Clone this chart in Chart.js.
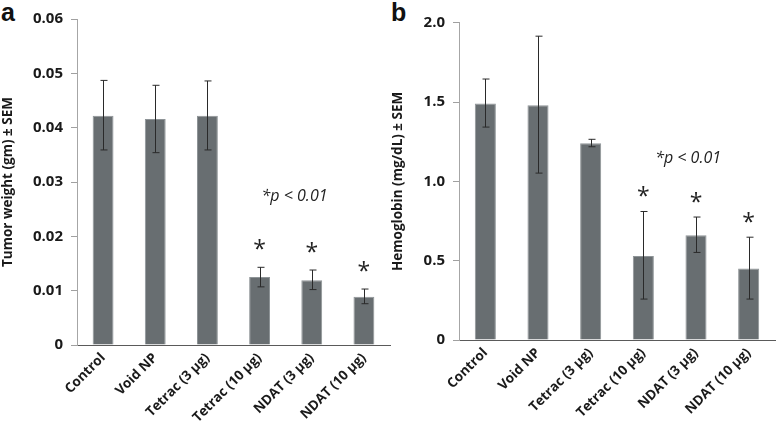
<!DOCTYPE html>
<html><head><meta charset="utf-8">
<script src="https://cdn.jsdelivr.net/npm/chart.js@4.4.1/dist/chart.umd.min.js"></script>
<style>
html,body{margin:0;padding:0;background:#fff;width:777px;height:421px;overflow:hidden;position:relative}
canvas{position:absolute;top:0}
.lbl{position:absolute;font-family:Arial,"Liberation Sans",sans-serif;font-weight:bold;font-size:25px;color:#111;line-height:1}
</style></head><body>
<div class="lbl" style="left:1px;top:0px">a</div>
<div class="lbl" style="left:391px;top:0px">b</div>
<canvas id="c1" width="392" height="421" style="left:0;width:392px;height:421px"></canvas>
<canvas id="c2" width="387" height="421" style="left:390px;width:387px;height:421px"></canvas>
<script>
const categories = ["Control","Void NP","Tetrac (3 \u00b5g)","Tetrac (10 \u00b5g)","NDAT (3 \u00b5g)","NDAT (10 \u00b5g)"];
const tumorWeight   = [0.0422,0.0416,0.0422,0.0125,0.0119,0.0089];
const tumorErrHigh  = [0.0487,0.0478,0.0486,0.0143,0.0138,0.0103];
const tumorErrLow   = [0.0359,0.0354,0.0359,0.0107,0.0102,0.0076];
const hemoglobin    = [1.49,1.48,1.24,0.53,0.66,0.45];
const hemoErrHigh   = [1.645,1.915,1.265,0.81,0.775,0.648];
const hemoErrLow    = [1.342,1.052,1.218,0.258,0.552,0.258];
const significant   = [false,false,false,true,true,true];
const tumorTicks = [0,0.01,0.02,0.03,0.04,0.05,0.06];
const hemoTicks  = [0,0.5,1.0,1.5,2.0];
const pNote = "*p < 0.01";

const FONT = "'Open Sans', 'Noto Sans', sans-serif";

function errPlugin(hi, lo, sig, noteX, noteY, starGap){
  return {
    id:'err',
    afterDatasetsDraw(chart){
      const ctx = chart.ctx, y = chart.scales.y, x = chart.scales.x;
      const meta = chart.getDatasetMeta(0);
      ctx.save();
      ctx.strokeStyle = '#2a2a2a'; ctx.lineWidth = 1;
      meta.data.forEach((bar,i)=>{
        const cx = Math.round(bar.x)+0.5;
        const yt = y.getPixelForValue(hi[i]), yb = y.getPixelForValue(lo[i]);
        ctx.beginPath();
        ctx.moveTo(cx,yt); ctx.lineTo(cx,yb);
        ctx.moveTo(cx-3,yt); ctx.lineTo(cx+4,yt);
        ctx.moveTo(cx-3,yb); ctx.lineTo(cx+4,yb);
        ctx.stroke();
        if(sig[i]){
          ctx.fillStyle='#222';
          ctx.font = "23px " + FONT;
          ctx.textAlign='center'; ctx.textBaseline='middle';
          ctx.fillText('*', bar.x, yt - starGap);
        }
      });
      ctx.font = "italic 16px " + FONT;
      ctx.fillStyle = '#222';
      ctx.textAlign='center'; ctx.textBaseline='middle';
      const px = x.getPixelForValue(Math.floor(noteX)) + (noteX%1)*(x.getPixelForValue(1)-x.getPixelForValue(0));
      ctx.fillText(pNote, px, y.getPixelForValue(noteY));
      ctx.restore();
    }
  };
}

function makeChart(id, values, hi, lo, ticks, yTitle, fmt, yw, xh, top, noteX, noteY, starGap){
  return new Chart(document.getElementById(id), {
    type:'bar',
    data:{labels:categories, datasets:[{data:values, backgroundColor:'#686e71', borderColor:'#8e9497', borderWidth:1, categoryPercentage:1, barPercentage:0.4}]},
    options:{
      responsive:false, animation:false, devicePixelRatio:1,
      layout:{padding:{top:top, right:2, left:0, bottom:0}},
      plugins:{legend:{display:false}, tooltip:{enabled:false}},
      scales:{
        x:{
          grid:{display:false, drawTicks:false},
          border:{color:'#5a5a5a', width:1},
          ticks:{maxRotation:45, minRotation:45, color:'#1a1a1a', padding:5, font:{family:FONT, weight:'bold', size:13.5}},
          afterFit(s){ s.height = xh; }
        },
        y:{
          min:ticks[0], max:ticks[ticks.length-1],
          afterBuildTicks(s){ s.ticks = ticks.map(v=>({value:v})); },
          grid:{display:true, drawOnChartArea:false, drawTicks:true, tickLength:6, color:'#a0a0a0'},
          border:{color:'#a6a6a6', width:1},
          ticks:{color:'#1a1a1a', padding:8, font:{family:FONT, weight:'bold', size:15}, callback:fmt},
          title:{display:true, text:yTitle, color:'#1a1a1a', font:{family:FONT, weight:'bold', size:13.5}, padding:{top:0,bottom:2}},
          afterFit(s){ s.width = yw; }
        }
      }
    },
    plugins:[errPlugin(hi, lo, significant, noteX, noteY, starGap)]
  });
}

makeChart('c1', tumorWeight, tumorErrHigh, tumorErrLow, tumorTicks, 'Tumor weight (gm) \u00b1 SEM',
  v => v===0 ? '0' : v.toFixed(2), 77, 76, 19, 3.67, 0.0274, 17);
makeChart('c2', hemoglobin, hemoErrHigh, hemoErrLow, hemoTicks, 'Hemoglobin (mg/dL) \u00b1 SEM',
  v => v===0 ? '0' : v.toFixed(1), 69, 81, 22.7, 3.85, 1.147, 14);
</script>
</body></html>
